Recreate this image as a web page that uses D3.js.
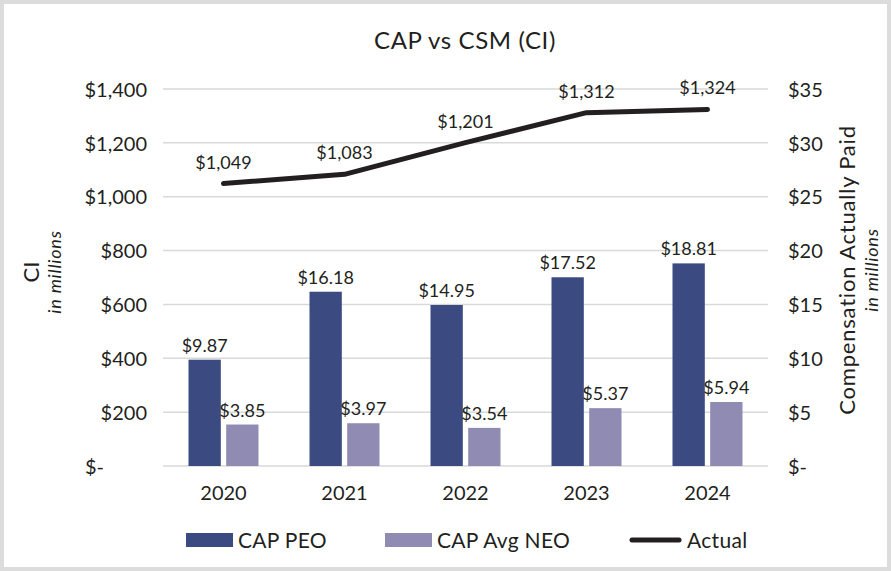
<!DOCTYPE html>
<html>
<head>
<meta charset="utf-8">
<script src="https://cdn.jsdelivr.net/npm/d3@7"></script>
<style>
  body { margin: 0; background: #fff; }
  svg text { font-family: Lato, "Noto Sans", sans-serif; fill: #231f20; }
</style>
</head>
<body>
<svg id="chart" width="891" height="571"></svg>
<script>
const years = ["2020", "2021", "2022", "2023", "2024"];
const capPeo = [9.87, 16.18, 14.95, 17.52, 18.81];
const capNeo = [3.85, 3.97, 3.54, 5.37, 5.94];
const actual = [1049, 1083, 1201, 1312, 1324];
const leftTicks = [0, 200, 400, 600, 800, 1000, 1200, 1400];
const rightTicks = [0, 5, 10, 15, 20, 25, 30, 35];
const seriesNames = ["CAP PEO", "CAP Avg NEO", "Actual"];
const colors = { "CAP PEO": "#3b4a80", "CAP Avg NEO": "#8f8bb3", "Actual": "#231f20" };

const svg = d3.select("#chart");
const W = 891, H = 571;
const plot = { left: 163, right: 768, top: 89, bottom: 466 };

// frame
svg.append("rect")
  .attr("x", 2).attr("y", 2)
  .attr("width", W - 4).attr("height", H - 4)
  .attr("fill", "#fff").attr("stroke", "#dcdcdc").attr("stroke-width", 4);

svg.append("text")
  .attr("x", 465).attr("y", 49)
  .attr("text-anchor", "middle")
  .style("font-size", "24px")
  .style("letter-spacing", "0.6px")
  .text("CAP vs CSM (CI)");

const x0 = d3.scaleBand().domain(years).range([plot.left, plot.right]);
const bw = x0.bandwidth();
const x1 = d3.scaleBand().domain(["CAP PEO", "CAP Avg NEO"])
  .range([bw / 2 - 35, bw / 2 + 35]).paddingInner(10 / 70);
const yL = d3.scaleLinear().domain([0, 1400]).range([plot.bottom, plot.top]);
const yR = d3.scaleLinear().domain([0, 35]).range([plot.bottom, plot.top]);

// gridlines
svg.append("g").selectAll("line")
  .data(leftTicks)
  .join("line")
    .attr("x1", plot.left).attr("x2", plot.right)
    .attr("y1", d => yL(d)).attr("y2", d => yL(d))
    .attr("stroke", "#d9d9d9").attr("stroke-width", 1.5);

// left axis
const fmtL = d => d === 0 ? "$-" : "$" + d3.format(",")(d);
const axL = svg.append("g")
  .attr("transform", `translate(${plot.left},0)`)
  .call(d3.axisLeft(yL).tickValues(leftTicks).tickFormat(fmtL).tickSize(0).tickPadding(16));
axL.select(".domain").remove();
axL.selectAll("text").style("font-size", "20px").attr("dy", "0.36em").attr("fill", "#231f20");
axL.selectAll("text").filter(d => d === 0).attr("text-anchor", "start").attr("x", -78);

// right axis
const fmtR = d => d === 0 ? "$-" : "$" + d;
const axR = svg.append("g")
  .attr("transform", `translate(${plot.right},0)`)
  .call(d3.axisRight(yR).tickValues(rightTicks).tickFormat(fmtR).tickSize(0).tickPadding(20));
axR.select(".domain").remove();
axR.selectAll("text").style("font-size", "20px").attr("dy", "0.36em").attr("fill", "#231f20");

// x axis
const axX = svg.append("g")
  .attr("transform", `translate(0,${plot.bottom})`)
  .call(d3.axisBottom(x0).tickSize(0).tickPadding(20));
axX.select(".domain").remove();
axX.selectAll("text").style("font-size", "20px").attr("dy", "0.71em").attr("fill", "#231f20");

// bars
const barData = [];
years.forEach((y, i) => {
  barData.push({ year: y, key: "CAP PEO", value: capPeo[i] });
  barData.push({ year: y, key: "CAP Avg NEO", value: capNeo[i] });
});

svg.append("g").selectAll("rect")
  .data(barData)
  .join("rect")
    .attr("x", d => x0(d.year) + x1(d.key))
    .attr("y", d => yR(d.value))
    .attr("width", x1.bandwidth())
    .attr("height", d => yR(0) - yR(d.value))
    .attr("fill", d => colors[d.key]);

svg.append("g").selectAll("text")
  .data(barData)
  .join("text")
    .attr("x", d => x0(d.year) + x1(d.key) + x1.bandwidth() / 2)
    .attr("y", d => yR(d.value) - 8)
    .attr("text-anchor", "middle")
    .style("font-size", "18px")
    .text(d => "$" + d.value.toFixed(2));

// actual line
const linePts = years.map((y, i) => ({ year: y, value: actual[i] }));
svg.append("path")
  .datum(linePts)
  .attr("fill", "none")
  .attr("stroke", colors["Actual"])
  .attr("stroke-width", 5)
  .attr("stroke-linecap", "round")
  .attr("stroke-linejoin", "round")
  .attr("d", d3.line().x(d => x0(d.year) + bw / 2).y(d => yL(d.value)));

svg.append("g").selectAll("text")
  .data(linePts)
  .join("text")
    .attr("x", d => x0(d.year) + bw / 2)
    .attr("y", d => yL(d.value) - 15)
    .attr("text-anchor", "middle")
    .style("font-size", "18px")
    .text(d => "$" + d3.format(",")(d.value));

// axis titles
const lt = svg.append("text")
  .attr("transform", "translate(39,272) rotate(-90)")
  .attr("text-anchor", "middle");
lt.append("tspan").attr("x", 0).attr("dy", 0).style("font-size", "22px").text("CI");
lt.append("tspan").attr("x", 0).attr("dy", 22).style("font-size", "18px")
  .style("font-style", "italic").style("letter-spacing", "0.8px").text("in millions");

const rt = svg.append("text")
  .attr("transform", "translate(855,270) rotate(-90)")
  .attr("text-anchor", "middle");
rt.append("tspan").attr("x", 0).attr("dy", 0).style("font-size", "22px")
  .style("letter-spacing", "0.8px").text("Compensation Actually Paid");
rt.append("tspan").attr("x", 0).attr("dy", 23).style("font-size", "18px")
  .style("font-style", "italic").style("letter-spacing", "0.8px").text("in millions");

// legend
const legendX = [186, 385, 630];
const legend = svg.append("g").attr("transform", "translate(0,540)");
const items = legend.selectAll("g")
  .data(seriesNames)
  .join("g")
    .attr("transform", (d, i) => `translate(${legendX[i]},0)`);
items.filter(d => d !== "Actual").append("rect")
  .attr("x", 0).attr("y", -7).attr("width", 47).attr("height", 14)
  .attr("fill", d => colors[d]);
items.filter(d => d === "Actual").append("line")
  .attr("x1", 2).attr("x2", 49).attr("y1", 0).attr("y2", 0)
  .attr("stroke", d => colors[d]).attr("stroke-width", 5).attr("stroke-linecap", "round");
items.append("text")
  .attr("x", (d, i) => i === 2 ? 57 : 52)
  .attr("y", 0).attr("dy", "0.36em")
  .style("font-size", "21px")
  .style("letter-spacing", "0.3px")
  .text(d => d);
</script>
</body>
</html>
